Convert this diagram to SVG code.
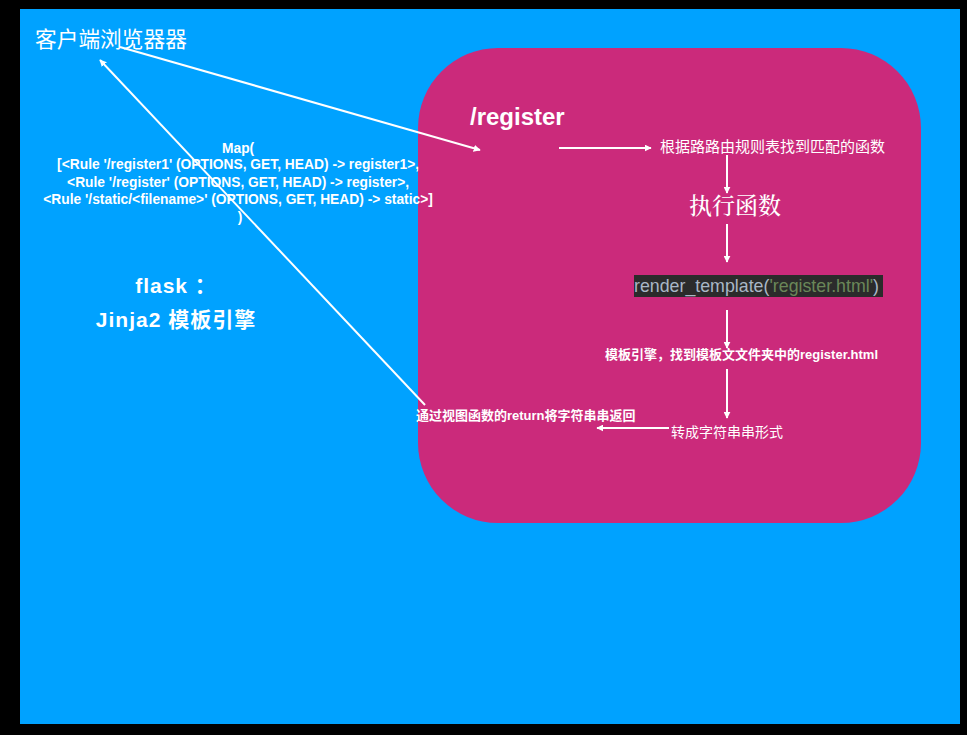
<svg xmlns="http://www.w3.org/2000/svg" width="967" height="735" viewBox="0 0 967 735">
<style>
.t{fill:#fff;font-family:"Liberation Sans","Noto Sans CJK SC",sans-serif}
.b{font-weight:bold}
.c{stroke:#fff;stroke-width:2;fill:none}
</style>
<defs>
<marker id="ah" viewBox="0 0 10 10" refX="9" refY="5" markerWidth="7" markerHeight="7" orient="auto" markerUnits="userSpaceOnUse">
<path d="M0,0 L10,5 L0,10 z" fill="#fff"/>
</marker>
</defs>
<rect x="0" y="0" width="967" height="735" fill="#000"/>
<rect x="20" y="9" width="940" height="715" fill="#00a2ff"/>
<g id="server">
<rect x="418" y="48" width="503" height="475" rx="80" ry="80" fill="#cb2a7b"/>
</g>
<g id="connectors">
<line class="c" x1="120" y1="47" x2="480" y2="150" marker-end="url(#ah)"/>
<line class="c" x1="425" y1="405" x2="100" y2="60" marker-end="url(#ah)"/>
<line class="c" x1="559" y1="148" x2="651" y2="148" marker-end="url(#ah)"/>
<line class="c" x1="727" y1="155" x2="727" y2="193" marker-end="url(#ah)"/>
<line class="c" x1="727" y1="224" x2="727" y2="262" marker-end="url(#ah)"/>
<line class="c" x1="727" y1="310" x2="727" y2="348" marker-end="url(#ah)"/>
<line class="c" x1="727" y1="369" x2="727" y2="418" marker-end="url(#ah)"/>
<line class="c" x1="669" y1="428" x2="597" y2="428" marker-end="url(#ah)"/>
</g>
<g id="client"><text class="t" x="35" y="47" font-size="21.7">客户端浏览器器</text></g>
<g id="map">
<text class="t b" font-size="13.8" text-anchor="middle">
<tspan x="240" y="153">Map(</tspan>
<tspan x="240" y="169">[&lt;Rule '/register1' (OPTIONS, GET, HEAD) -&gt; register1&gt;,</tspan>
<tspan x="240" y="187">&lt;Rule '/register' (OPTIONS, GET, HEAD) -&gt; register&gt;,</tspan>
<tspan x="240" y="204">&lt;Rule '/static/&lt;filename&gt;' (OPTIONS, GET, HEAD) -&gt; static&gt;]</tspan>
<tspan x="240" y="222">)</tspan>
</text>
</g>
<g id="flask">
<text class="t b" font-size="21" text-anchor="middle" letter-spacing="1"><tspan x="176" y="293">flask ：</tspan><tspan x="176" y="327">Jinja2 模板引擎</tspan></text>
</g>
<g id="route"><text class="t b" x="470" y="125" font-size="24">/register</text></g>
<g id="match"><text class="t" x="660" y="152" font-size="15">根据路路由规则表找到匹配的函数</text></g>
<g id="exec"><text class="t" x="689" y="214" font-size="23" font-weight="500" style="font-family:'Noto Serif CJK SC','Noto Sans CJK SC',serif">执行函数</text></g>
<g id="render">
<rect x="634" y="275" width="249" height="22" fill="#2b2b2b"/>
<text x="634" y="292" font-size="17.8" style="font-family:'Liberation Sans',sans-serif" fill="#a9b7c6">render_template(<tspan fill="#6a8759">'register.html'</tspan>)</text>
</g>
<g id="engine"><text class="t b" x="605" y="359" font-size="13">模板引擎，找到模板文文件夹中的register.html</text></g>
<g id="return"><text class="t b" x="416" y="420" font-size="13">通过视图函数的return将字符串串返回</text></g>
<g id="convert"><text class="t" x="671" y="437" font-size="14">转成字符串串形式</text></g>
</svg>
